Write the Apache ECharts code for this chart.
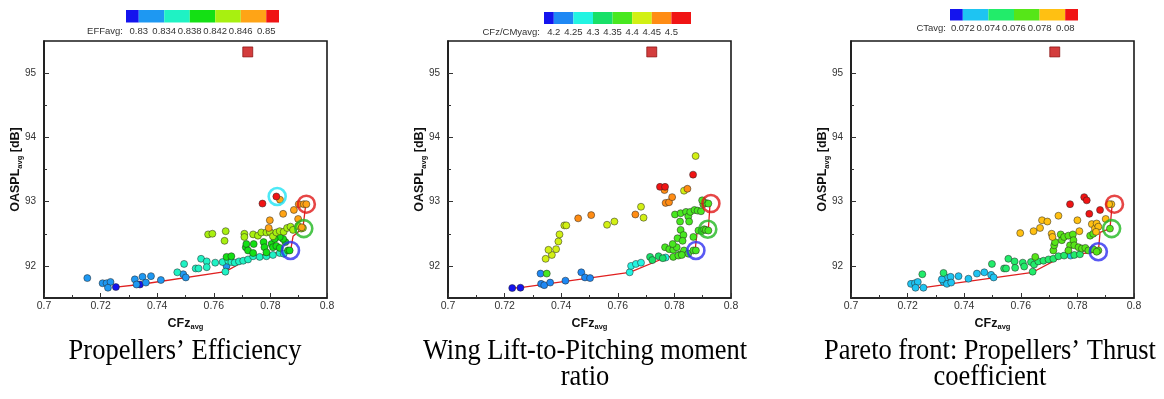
<!DOCTYPE html>
<html><head><meta charset="utf-8">
<script src="https://cdn.jsdelivr.net/npm/echarts@6/dist/echarts.min.js"></script>
<style>html,body{margin:0;padding:0;background:#fff}#c{width:1164px;height:399px}</style>
</head><body><div id="c"></div>
<script>
// ---------- axis ticks ----------
const cfzTickLabels = ['0.7','0.72','0.74','0.76','0.78','0.8'];
const oasplTicks = [92, 93, 94, 95];
const oasplMinorTicks = [92.5, 93.5, 94.5];

// ---------- colour legends ----------
const effEdges  = [0.828, 0.83, 0.834, 0.838, 0.842, 0.846, 0.85, 0.852];
const effLabels = ['0.83','0.834','0.838','0.842','0.846','0.85'];
const effColors = ['#1414ee','#1e98f2','#1ff2c4','#14e014','#a8f010','#ffa416','#f01414'];

const cmEdges  = [4.175, 4.2, 4.25, 4.3, 4.35, 4.4, 4.45, 4.5, 4.55];
const cmLabels = ['4.2','4.25','4.3','4.35','4.4','4.45','4.5'];
const cmColors = ['#1414ee','#1e88f4','#22f4e2','#18e068','#48e820','#d2f014','#ff8c14','#f01414'];

const ctEdges  = [0.071, 0.072, 0.074, 0.076, 0.078, 0.08, 0.081];
const ctLabels = ['0.072','0.074','0.076','0.078','0.08'];
const ctColors = ['#1414ee','#1ec4f2','#22ec6a','#56e618','#ffc012','#f01414'];

// ---------- baseline design (red square) ----------
const baseX = [0.772];
const baseY = [95.33];

// ---------- Plot 1: Propellers' Efficiency ----------
const p1X = [
 0.7254,0.7339,
 0.7153,0.7207,0.7221,0.7235,0.7226,0.7321,0.7348,0.7378,0.7327,0.7360,0.7413,0.7492,0.7501,0.7645,
 0.7471,0.7495,0.7536,0.7546,0.7555,0.7575,0.7575,0.7605,0.7631,0.7641,0.7651,0.7662,0.7674,0.7689,0.7704,0.7721,0.7739,0.7762,0.7786,0.7809,0.7833,0.7847,
 0.7645,0.7662,0.7713,0.7715,0.7721,0.7741,0.7739,0.7776,0.7779,0.7786,0.7804,0.7809,0.7821,0.7833,0.7853,0.7862,0.7868,0.7845,0.7833,0.7815,
 0.7580,0.7595,0.7642,0.7638,0.7708,0.7708,0.7739,0.7756,0.7768,0.7786,0.7798,0.7809,0.7821,0.7833,0.7847,0.7859,0.7871,0.7880,0.7898,0.7909,0.7915,
 0.7798,0.7794,0.7845,0.7883,0.7898,0.7900,0.7918,0.7927,0.7834,0.7911,
 0.7772,0.7821
];
const p1Y = [
 91.67,91.71,
 91.81,91.73,91.73,91.75,91.66,91.79,91.83,91.84,91.71,91.74,91.78,91.87,91.82,92.00,
 91.90,92.03,91.96,91.96,92.11,92.07,91.98,92.05,92.06,91.91,92.08,92.06,92.05,92.07,92.08,92.10,92.15,92.14,92.15,92.17,92.20,92.19,
 92.14,92.15,92.29,92.34,92.24,92.34,92.20,92.37,92.29,92.21,92.34,92.29,92.31,92.28,92.37,92.24,92.24,92.42,92.45,92.42,
 92.49,92.50,92.54,92.39,92.50,92.45,92.49,92.47,92.52,92.52,92.53,92.46,92.52,92.54,92.53,92.59,92.61,92.56,92.62,92.58,92.59,
 92.71,92.59,92.81,92.87,92.73,92.96,92.96,92.96,93.03,92.60,
 92.97,93.08
];
const p1V = [
 0.829,0.829,
 0.832,0.832,0.832,0.832,0.832,0.832,0.832,0.832,0.832,0.832,0.832,0.832,0.832,0.832,
 0.836,0.836,0.836,0.836,0.836,0.836,0.836,0.836,0.836,0.836,0.836,0.836,0.836,0.836,0.836,0.836,0.836,0.836,0.836,0.836,0.836,0.836,
 0.840,0.840,0.840,0.840,0.840,0.840,0.840,0.840,0.840,0.840,0.840,0.840,0.840,0.840,0.840,0.840,0.840,0.840,0.840,0.840,
 0.844,0.844,0.844,0.844,0.844,0.844,0.844,0.844,0.844,0.844,0.844,0.844,0.844,0.844,0.844,0.844,0.844,0.844,0.844,0.844,0.844,
 0.848,0.848,0.848,0.848,0.848,0.848,0.848,0.848,0.848,0.848,
 0.851,0.851
];
const f1X = [0.7254,0.7339,0.7641,0.7739,0.7871,0.7880,0.7915,0.7925];
const f1Y = [91.67,91.71,91.91,92.15,92.23,92.46,92.59,92.96];
const r1X = [0.7927,0.7918,0.7871,0.7824];
const r1Y = [92.96,92.58,92.24,93.08];

// ---------- Plot 2: Wing Lift-to-Pitching moment ratio ----------
const p2X = [
 0.7227,0.7256,
 0.7327,0.7329,0.7340,0.7361,0.7415,0.7471,0.7484,0.7502,
 0.7642,0.7647,0.7664,0.7682,0.7769,
 0.7714,0.7722,0.7744,0.7759,
 0.7349,0.7767,0.7782,0.7796,0.7808,0.7820,0.7834,0.7849,0.7867,0.7876,0.7796,0.7814,0.7826,0.7794,0.7811,0.7822,0.7832,0.7829,0.7820,
 0.7802,0.7822,0.7841,0.7849,0.7852,0.7856,0.7871,0.7882,0.7894,0.7902,0.7911,0.7920,0.7898,0.7867,0.7885,0.7896,0.7905,0.7911,0.7920,
 0.7345,0.7367,0.7355,0.7382,0.7390,0.7394,0.7411,0.7418,0.7562,0.7588,0.7682,0.7691,0.7834,0.7875,
 0.7460,0.7506,0.7662,0.7765,0.7769,0.7781,0.7792,0.7846,
 0.7749,0.7767,0.7866
];
const p2Y = [
 91.655,91.66,
 91.88,91.72,91.70,91.74,91.77,91.90,91.82,91.81,
 91.90,92.00,92.03,92.05,92.13,
 92.14,92.09,92.15,92.12,
 91.88,92.29,92.26,92.25,92.29,92.18,92.24,92.19,92.24,92.24,92.14,92.16,92.17,92.34,92.43,92.56,92.48,92.39,92.69,
 92.80,92.82,92.84,92.77,92.69,92.84,92.87,92.86,92.85,92.96,92.98,92.97,93.02,92.45,92.55,92.54,92.57,92.56,92.55,
 92.11,92.17,92.25,92.26,92.38,92.49,92.63,92.63,92.64,92.69,92.92,92.75,93.17,93.71,
 92.74,92.79,92.80,93.18,92.98,92.99,93.07,93.20,
 93.23,93.23,93.42
];
const p2V = [
 4.19,4.19,
 4.22,4.22,4.22,4.22,4.22,4.22,4.22,4.22,
 4.27,4.27,4.27,4.27,4.27,
 4.32,4.32,4.32,4.32,
 4.37,4.37,4.37,4.37,4.37,4.37,4.37,4.37,4.37,4.37,4.37,4.37,4.37,4.37,4.37,4.37,4.37,4.37,4.37,
 4.37,4.37,4.37,4.37,4.37,4.37,4.37,4.37,4.37,4.37,4.37,4.37,4.37,4.37,4.37,4.37,4.37,4.37,4.37,
 4.42,4.42,4.42,4.42,4.42,4.42,4.42,4.42,4.42,4.42,4.42,4.42,4.42,4.42,
 4.47,4.47,4.47,4.47,4.47,4.47,4.47,4.47,
 4.52,4.52,4.52
];
const f2X = [0.7227,0.7256,0.7642,0.7769,0.7873,0.7881,0.7920,0.7926];
const f2Y = [91.655,91.66,91.90,92.13,92.24,92.55,92.57,92.97];
const r2X = [0.7929,0.7918,0.7876];
const r2Y = [92.97,92.57,92.24];

// ---------- Plot 3: Propellers' Thrust coefficient ----------
const p3X = [
 0.7212,0.7226,0.7236,0.7228,0.7256,0.7327,0.7336,0.7352,0.7339,0.7354,0.7380,0.7415,0.7445,0.7471,0.7495,0.7504,0.7776,0.7321,
 0.7252,0.7327,0.7498,0.7541,0.7548,0.7556,0.7578,0.7580,0.7607,0.7612,0.7636,0.7642,0.7647,0.7662,0.7680,0.7698,0.7715,0.7733,0.7753,0.7789,0.7809,
 0.7651,0.7715,0.7718,0.7721,0.7741,0.7745,0.7753,0.7768,0.7774,0.7784,0.7786,0.7789,0.7768,0.7804,0.7816,0.7828,0.7839,0.7856,0.7874,0.7868,0.7845,0.7856,0.7915,
 0.7598,0.7645,0.7668,0.7675,0.7694,0.7709,0.7712,0.7733,0.7800,0.7807,0.7851,0.7862,0.7868,0.7874,0.7866,0.7900,0.7920,0.7912,
 0.7774,0.7824,0.7833,0.7842,0.7880
];
const p3Y = [
 91.72,91.73,91.75,91.66,91.66,91.75,91.82,91.83,91.72,91.74,91.84,91.80,91.88,91.90,91.86,91.82,92.16,91.79,
 91.87,91.89,92.03,91.96,91.96,92.11,92.07,91.97,92.05,91.99,92.06,91.91,92.02,92.07,92.08,92.10,92.11,92.15,92.16,92.17,92.18,
 92.14,92.24,92.32,92.37,92.49,92.40,92.45,92.47,92.32,92.49,92.40,92.32,92.24,92.29,92.27,92.28,92.24,92.26,92.24,92.22,92.47,92.50,92.58,
 92.51,92.54,92.59,92.71,92.69,92.50,92.45,92.78,92.71,92.54,92.65,92.58,92.66,92.61,92.53,92.73,92.96,92.96,
 92.96,93.07,93.02,92.81,92.87
];
const p3V = [
 0.073,0.073,0.073,0.073,0.073,0.073,0.073,0.073,0.073,0.073,0.073,0.073,0.073,0.073,0.073,0.073,0.073,0.073,
 0.075,0.075,0.075,0.075,0.075,0.075,0.075,0.075,0.075,0.075,0.075,0.075,0.075,0.075,0.075,0.075,0.075,0.075,0.075,0.075,0.075,
 0.077,0.077,0.077,0.077,0.077,0.077,0.077,0.077,0.077,0.077,0.077,0.077,0.077,0.077,0.077,0.077,0.077,0.077,0.077,0.077,0.077,0.077,0.077,
 0.079,0.079,0.079,0.079,0.079,0.079,0.079,0.079,0.079,0.079,0.079,0.079,0.079,0.079,0.079,0.079,0.079,0.079,
 0.0805,0.0805,0.0805,0.0805,0.0805
];
const f3X = [0.7227,0.7256,0.7642,0.7753,0.7874,0.7880,0.7915,0.7923];
const f3Y = [91.67,91.66,91.90,92.16,92.22,92.52,92.58,92.96];
const r3X = [0.7931,0.7921,0.7874];
const r3Y = [92.96,92.58,92.22];

// ---------- captions ----------
const captions = [
  ['Propellers\u2019 Efficiency'],
  ['Wing Lift-to-Pitching moment', 'ratio'],
  ['Pareto front: Propellers\u2019 Thrust', 'coefficient']
];
const legendNames = ['EFFavg:', 'CFz/CMyavg:', 'CTavg:'];

// ---------- layout / style (not data) ----------
const ringStyle = ['#e01818', '#20b820', '#3030f0', '#20e4f4'];
const plotBoxes = [
  {left: 44,  top: 41, width: 283, height: 257},
  {left: 448, top: 41, width: 283, height: 257},
  {left: 851, top: 41, width: 283, height: 257}
];
const barBoxes = [
  {left: 126, top: 10, width: 153, height: 12.5, margin: 3.5, nameX: 123, nameY: 31},
  {left: 544, top: 12, width: 147, height: 12,   margin: 3,   nameX: 540, nameY: 32},
  {left: 950, top: 9,  width: 128, height: 11.5, margin: 2.5, nameX: 946, nameY: 28}
];
const captionCenters = [185, 585, 990];
const SANS = '"Liberation Sans", Arial, sans-serif';
const SERIF = '"Liberation Serif", "Times New Roman", serif';

const plots = [
  {x: p1X, y: p1Y, v: p1V, fx: f1X, fy: f1Y, rx: r1X, ry: r1Y, edges: effEdges, colors: effColors, labels: effLabels},
  {x: p2X, y: p2Y, v: p2V, fx: f2X, fy: f2Y, rx: r2X, ry: r2Y, edges: cmEdges,  colors: cmColors,  labels: cmLabels},
  {x: p3X, y: p3Y, v: p3V, fx: f3X, fy: f3Y, rx: r3X, ry: r3Y, edges: ctEdges,  colors: ctColors,  labels: ctLabels}
];

const grids = [], xAxes = [], yAxes = [], series = [], visualMaps = [], graphics = [];
const nameRich = {
  a: {fontSize: 12.5, fontWeight: 'bold', color: '#111', fontFamily: SANS, lineHeight: 16},
  b: {fontSize: 7.5, fontWeight: 'bold', color: '#111', fontFamily: SANS, lineHeight: 9, verticalAlign: 'bottom'}
};

plots.forEach((p, i) => {
  const box = plotBoxes[i];
  const g = grids.length;
  grids.push(Object.assign({show: true, borderColor: '#1a1a1a', borderWidth: 1.6, backgroundColor: '#fff'}, box));
  const xi = xAxes.length;
  xAxes.push({
    gridIndex: g, type: 'value', min: 0.7, max: 0.8, interval: 0.02,
    axisLine: {show: true, lineStyle: {color: '#1a1a1a', width: 1.6}},
    axisTick: {inside: true, length: 5, lineStyle: {color: '#333', width: 1}},
    minorTick: {show: true, splitNumber: 2, length: 3, lineStyle: {color: '#333', width: 1}},
    splitLine: {show: false}, minorSplitLine: {show: false},
    axisLabel: {fontSize: 10.5, color: '#333', fontFamily: SANS, margin: 3,
      formatter: v => cfzTickLabels[Math.round((v - 0.7) / 0.02)] || ''},
    name: '{a|CFz}{b|avg}', nameLocation: 'middle', nameGap: 12,
    nameTextStyle: {rich: nameRich}
  });
  const yi = yAxes.length;
  yAxes.push({
    gridIndex: g, type: 'value', min: 91.5, max: 95.5, position: 'left',
    axisLine: {show: true, lineStyle: {color: '#1a1a1a', width: 1.6}},
    axisTick: {inside: true, length: 5, customValues: oasplTicks, lineStyle: {color: '#333', width: 1}},
    splitLine: {show: false},
    axisLabel: {fontSize: 10, color: '#333', fontFamily: SANS, margin: 8, customValues: oasplTicks},
    name: '{a|OASPL}{b|avg}{a| [dB]}', nameLocation: 'middle', nameGap: 20, nameMoveOverlap: false,
    nameTextStyle: {rich: nameRich}
  });
  yAxes.push({
    gridIndex: g, type: 'value', min: 91.5, max: 95.5, position: 'right', offset: -box.width,
    axisLine: {show: false}, axisLabel: {show: false}, splitLine: {show: false},
    axisTick: {inside: false, length: 3, customValues: oasplMinorTicks, lineStyle: {color: '#333', width: 1}}
  });

  series.push({
    type: 'line', xAxisIndex: xi, yAxisIndex: yi, z: 2, symbol: 'none', silent: true,
    lineStyle: {color: '#e02020', width: 1.3},
    data: p.fx.map((x, k) => [x, p.fy[k]])
  });
  const sIdx = series.length;
  series.push({
    type: 'scatter', xAxisIndex: xi, yAxisIndex: yi, z: 3, symbol: 'circle', symbolSize: 7,
    itemStyle: {borderColor: 'rgba(35,35,35,0.85)', borderWidth: 0.6, opacity: 1},
    data: p.x.map((x, k) => [x, p.y[k], p.v[k]])
  });
  visualMaps.push({
    type: 'piecewise', show: false, seriesIndex: sIdx, dimension: 2,
    pieces: p.colors.map((c, k) => ({gte: p.edges[k], lt: p.edges[k + 1], color: c}))
  });
  series.push({
    type: 'scatter', xAxisIndex: xi, yAxisIndex: yi, z: 4, symbol: 'circle', symbolSize: 17,
    data: p.rx.map((x, k) => ({value: [x, p.ry[k]],
      itemStyle: {color: 'rgba(0,0,0,0)', borderColor: ringStyle[k], borderWidth: 2.6}}))
  });
  series.push({
    type: 'scatter', xAxisIndex: xi, yAxisIndex: yi, z: 4, symbol: 'rect', symbolSize: 10,
    itemStyle: {color: '#c80c0c', borderColor: '#7a0000', borderWidth: 0.8},
    data: baseX.map((x, k) => [x, baseY[k]])
  });

  // colour bar
  const bb = barBoxes[i];
  const gb = grids.length;
  grids.push({left: bb.left, top: bb.top, width: bb.width, height: bb.height, show: false});
  const lblVals = p.labels.map(s => parseFloat(s));
  const xb = xAxes.length;
  xAxes.push({
    gridIndex: gb, type: 'value', min: p.edges[0], max: p.edges[p.edges.length - 1],
    axisLine: {show: false}, axisTick: {show: false}, splitLine: {show: false},
    axisLabel: {fontSize: 9.5, color: '#333', fontFamily: SANS, margin: bb.margin,
      customValues: lblVals, formatter: v => {
        let best = 0; lblVals.forEach((lv, k) => { if (Math.abs(lv - v) < Math.abs(lblVals[best] - v)) best = k; });
        return p.labels[best];
      }}
  });
  const yb = yAxes.length;
  yAxes.push({gridIndex: gb, type: 'value', min: 0, max: 1, show: false});
  const colors = p.colors;
  series.push({
    type: 'custom', xAxisIndex: xb, yAxisIndex: yb, silent: true,
    data: colors.map((c, k) => [p.edges[k], p.edges[k + 1], k]),
    renderItem: (params, api) => {
      const a = api.coord([api.value(0), 1]);
      const b = api.coord([api.value(1), 0]);
      return {type: 'rect', shape: {x: a[0], y: a[1], width: b[0] - a[0], height: b[1] - a[1]},
        style: {fill: colors[api.value(2)]}};
    }
  });

  graphics.push({type: 'text', x: bb.nameX, y: bb.nameY,
    style: {text: legendNames[i], font: '9.5px ' + SANS, fill: '#333', align: 'right', verticalAlign: 'middle'}});
  captions[i].forEach((line, k) => {
    graphics.push({type: 'text', x: captionCenters[i], y: 351 + k * 26.7, scaleY: 1.08,
      style: {text: line, font: '26.5px ' + SERIF, fill: '#000', align: 'center', verticalAlign: 'middle'}});
  });
});

const chart = echarts.init(document.getElementById('c'), null, {renderer: 'canvas'});
chart.setOption({
  animation: false,
  backgroundColor: '#fff',
  grid: grids, xAxis: xAxes, yAxis: yAxes,
  visualMap: visualMaps,
  series: series,
  graphic: graphics
});
</script></body></html>
